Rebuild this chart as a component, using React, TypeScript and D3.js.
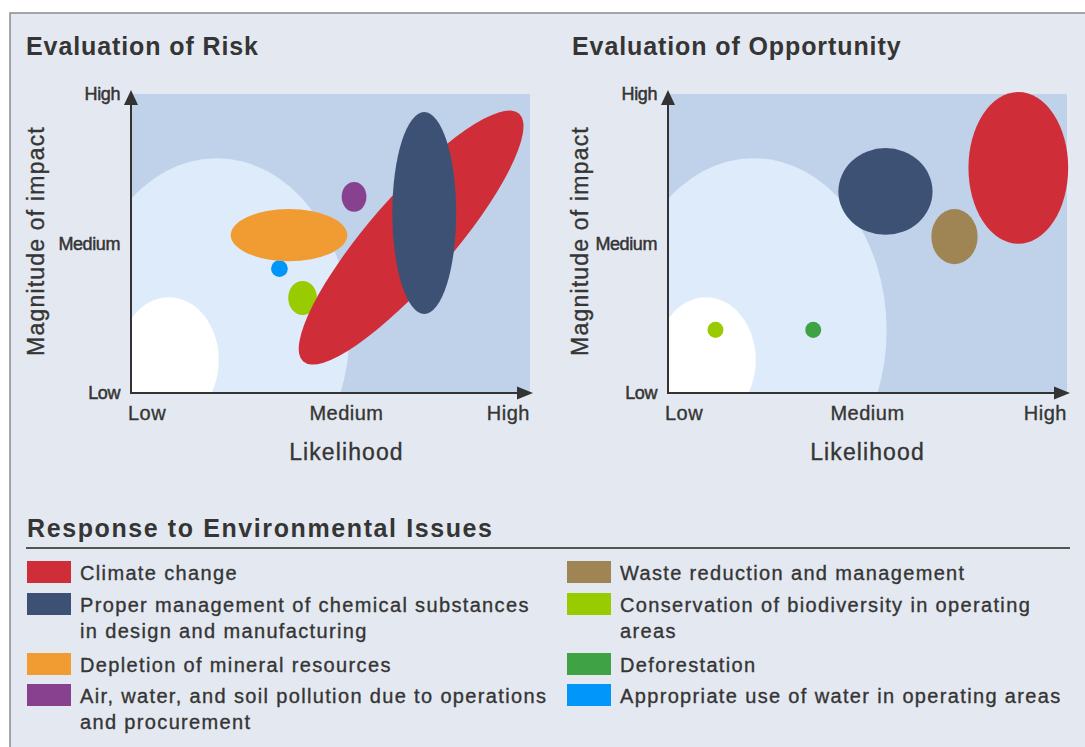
import React from 'react'
import * as d3 from 'd3'

// issues, in legend order
const issueNames = [
  'Climate change',
  'Chemical substances',
  'Mineral resources',
  'Pollution',
  'Waste',
  'Biodiversity',
  'Deforestation',
  'Water',
]
const issueColors = ['#cf2e38', '#3c5173', '#f19b33', '#87418f', '#a08554', '#99cc00', '#3fa345', '#0096fa']
const legendLines = [
  ['Climate change'],
  ['Proper management of chemical substances', 'in design and manufacturing'],
  ['Depletion of mineral resources'],
  ['Air, water, and soil pollution due to operations', 'and procurement'],
  ['Waste reduction and management'],
  ['Conservation of biodiversity in operating', 'areas'],
  ['Deforestation'],
  ['Appropriate use of water in operating areas'],
]

// likelihood / impact on a 0..10 scale, spread = half range on each axis
const riskMarks = [
  { issue: 5, likelihood: 4.3, impact: 3.18, spreadL: 0.36, spreadI: 0.57, tilt: 0 },
  { issue: 7, likelihood: 3.72, impact: 4.16, spreadL: 0.21, spreadI: 0.28, tilt: 0 },
  { issue: 2, likelihood: 3.96, impact: 5.28, spreadL: 1.46, spreadI: 0.87, tilt: 0 },
  { issue: 3, likelihood: 5.59, impact: 6.56, spreadL: 0.31, spreadI: 0.5, tilt: 0 },
  { issue: 0, likelihood: 7.02, impact: 5.2, spreadL: 4.12, spreadI: 1.4, tilt: -49 },
  { issue: 1, likelihood: 7.35, impact: 6.02, spreadL: 0.8, spreadI: 3.38, tilt: 0 },
]
const opportunityMarks = [
  { issue: 5, likelihood: 1.19, impact: 2.11, spreadL: 0.2, spreadI: 0.27, tilt: 0 },
  { issue: 6, likelihood: 3.64, impact: 2.11, spreadL: 0.2, spreadI: 0.27, tilt: 0 },
  { issue: 4, likelihood: 7.18, impact: 5.23, spreadL: 0.58, spreadI: 0.92, tilt: 0 },
  { issue: 1, likelihood: 5.45, impact: 6.74, spreadL: 1.18, spreadI: 1.45, tilt: 0 },
  { issue: 0, likelihood: 8.78, impact: 7.53, spreadL: 1.25, spreadI: 2.54, tilt: 0 },
]

// shaded zones behind the points
const zones = [
  { likelihood: 2.15, impact: 2.1, spreadL: 3.33, spreadI: 5.75 },
  { likelihood: 0.95, impact: 1.1, spreadL: 1.25, spreadI: 2.1 },
]
const zoneFills = ['#deebfb', '#ffffff']

const tickLabels = ['Low', 'Medium', 'High']
const riskLikelihoodTicks = [0, 5.4, 10]
const opportunityLikelihoodTicks = [0, 5, 10]
const impactTicks = [0, 5, 10]

const FONT = '"Liberation Sans", Arial, Helvetica, sans-serif'
const TEXT = '#353535'
// a touch of stroke so the thin glyphs read as heavy as the original
const heavy = { stroke: TEXT, strokeWidth: 0.35 }

function Matrix({ id, title, titleX, marks, left, xTicks, yTitleX }) {
  const x = d3.scaleLinear().domain([0, 10]).range([left, left + 399])
  const y = d3.scaleLinear().domain([0, 10]).range([393, 94])
  const [x0, x1] = x.range()
  const [y0, y1] = y.range()
  const rx = (v) => x(v) - x(0)
  const ry = (v) => y(0) - y(v)

  return (
    <g>
      <text x={titleX} y={55} fontSize={25} fontWeight={700} letterSpacing={0.9} fill={TEXT}>
        {title}
      </text>
      <defs>
        <clipPath id={id}>
          <rect x={x0} y={y1} width={x1 - x0} height={y0 - y1} />
        </clipPath>
      </defs>
      <rect x={x0} y={y1} width={x1 - x0} height={y0 - y1} fill="#c0d1ea" />
      <g clipPath={`url(#${id})`}>
        {zones.map((z, i) => (
          <ellipse key={i} cx={x(z.likelihood)} cy={y(z.impact)} rx={rx(z.spreadL)} ry={ry(z.spreadI)} fill={zoneFills[i]} />
        ))}
      </g>
      {marks.map((m, i) => (
        <ellipse
          key={i}
          cx={x(m.likelihood)}
          cy={y(m.impact)}
          rx={rx(m.spreadL)}
          ry={ry(m.spreadI)}
          fill={issueColors[m.issue]}
          transform={m.tilt ? `rotate(${m.tilt},${x(m.likelihood)},${y(m.impact)})` : undefined}
        >
          <title>{issueNames[m.issue]}</title>
        </ellipse>
      ))}
      {/* axes with arrow heads */}
      <line x1={x0} y1={y0} x2={x0} y2={104} stroke="#333" strokeWidth={2} />
      <path d={`M${x0},90 L${x0 - 7},105 L${x0 + 7},105 Z`} fill="#333" />
      <line x1={x0 - 1} y1={y0} x2={x1 - 12} y2={y0} stroke="#333" strokeWidth={2} />
      <path d={`M${x1 + 3},${y0} L${x1 - 13},${y0 - 6.5} L${x1 - 13},${y0 + 6.5} Z`} fill="#333" />

      {xTicks.map((t, i) => (
        <text
          key={i}
          x={i === 0 ? x(t) - 3 : x(t)}
          y={420}
          fontSize={20}
          letterSpacing={0.5}
          textAnchor={i === 0 ? 'start' : i === 2 ? 'end' : 'middle'}
          fill={TEXT}
          {...heavy}
        >
          {tickLabels[i]}
        </text>
      ))}
      {impactTicks.map((t, i) => (
        <text
          key={i}
          x={x0 - 11}
          y={y(t)}
          dy="0.35em"
          fontSize={18}
          letterSpacing={-0.4}
          textAnchor="end"
          fill={TEXT}
          stroke={TEXT}
          strokeWidth={0.5}
        >
          {tickLabels[i]}
        </text>
      ))}
      <text x={x(xTicks[1])} y={460} fontSize={23} letterSpacing={1.1} textAnchor="middle" fill={TEXT} {...heavy}>
        Likelihood
      </text>
      <text
        transform={`translate(${yTitleX},241) rotate(-90)`}
        fontSize={23}
        letterSpacing={1.2}
        textAnchor="middle"
        fill={TEXT}
        {...heavy}
      >
        Magnitude of impact
      </text>
    </g>
  )
}

function Legend() {
  const cols = [27, 567]
  const rowTops = [561, 593, 653, 684]
  return (
    <g>
      <text x={27} y={537} fontSize={25} fontWeight={700} letterSpacing={1.6} fill={TEXT}>
        Response to Environmental Issues
      </text>
      <line x1={26} x2={1070} y1={548} y2={548} stroke="#555" strokeWidth={2} />
      {legendLines.map((lines, i) => {
        const cx = cols[Math.floor(i / 4)]
        const top = rowTops[i % 4]
        return (
          <g key={i}>
            <rect x={cx} y={top} width={44} height={22} fill={issueColors[i]} />
            {lines.map((ln, j) => (
              <text key={j} x={cx + 53} y={top + 19 + j * 26} fontSize={20} letterSpacing={1.35} fill={TEXT} {...heavy}>
                {ln}
              </text>
            ))}
          </g>
        )
      })}
    </g>
  )
}

export default function App() {
  return (
    <svg
      width={1085}
      height={747}
      style={{ position: 'absolute', left: 0, top: 0, display: 'block' }}
      fontFamily={FONT}
    >
      <rect x={0} y={0} width={1085} height={747} fill="#ffffff" />
      <rect x={10} y={13} width={1100} height={800} fill="#e4e9f1" stroke="#8a8a8a" strokeWidth={1.5} />
      <Matrix
        id="clip-risk"
        title="Evaluation of Risk"
        titleX={26}
        marks={riskMarks}
        left={131}
        xTicks={riskLikelihoodTicks}
        yTitleX={44}
      />
      <Matrix
        id="clip-opp"
        title="Evaluation of Opportunity"
        titleX={572}
        marks={opportunityMarks}
        left={668}
        xTicks={opportunityLikelihoodTicks}
        yTitleX={588}
      />
      <Legend />
    </svg>
  )
}
